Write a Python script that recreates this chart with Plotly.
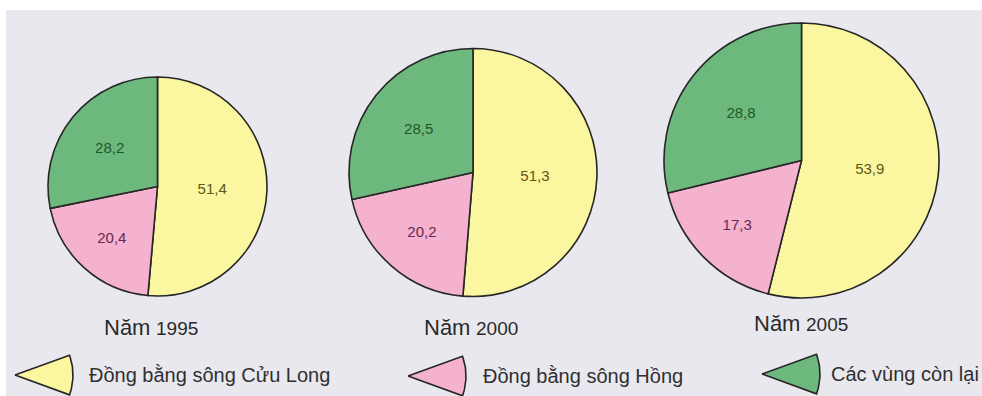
import numpy as np
import plotly.graph_objects as go

# Cơ cấu theo vùng (%), ba năm
regions = ["Đồng bằng sông Cửu Long", "Đồng bằng sông Hồng", "Các vùng còn lại"]
years = ["1995", "2000", "2005"]
share_1995 = [51.4, 20.4, 28.2]
share_2000 = [51.3, 20.2, 28.5]
share_2005 = [53.9, 17.3, 28.8]
shares = [share_1995, share_2000, share_2005]

slice_colors = ["#fbf6a0", "#f5b2cf", "#6db87c"]
label_colors = ["#5e5814", "#652a4e", "#1c5a27"]
bg_color = "#e9e8ef"
W, H = 982, 396

# pie placement in pixels: centre x, centre y, radius (size grows with year)
pie_geom = [(157.5, 186.5, 109.5), (473.0, 172.5, 124.0), (801.5, 160.5, 137.5)]
caption_pos = [(151, 327), (471, 327), (801, 323)]

# legend icons: wedge apex x, y and text start
legend_pos = [(15, 375, 87), (408, 376, 481), (762, 374, 829)]
wedge_r, wedge_half = 58, 20

fig = go.Figure()

for vals, (cx, cy, r) in zip(shares, pie_geom):
    fig.add_trace(go.Pie(
        values=vals,
        labels=regions,
        sort=False,
        direction="clockwise",
        rotation=0,
        domain=dict(x=[(cx - r) / W, (cx + r) / W],
                    y=[1 - (cy + r) / H, 1 - (cy - r) / H]),
        marker=dict(colors=slice_colors, line=dict(color="#262626", width=1.6)),
        texttemplate="%{value:.1f}",
        textposition="inside",
        insidetextorientation="horizontal",
        textfont=dict(family="Liberation Sans, Arial, sans-serif", size=15,
                      color=label_colors),
        hoverinfo="label+value",
        showlegend=False,
    ))

# wedge-shaped legend keys on a hidden pixel-space axis
ang = np.radians(np.linspace(-wedge_half, wedge_half, 30))
for (ax, ay, tx), name, col in zip(legend_pos, regions, slice_colors):
    xs = np.concatenate([[ax], ax + wedge_r * np.cos(ang), [ax]])
    ys = np.concatenate([[ay], ay + wedge_r * np.sin(ang), [ay]])
    fig.add_trace(go.Scatter(
        x=xs, y=ys, mode="lines", fill="toself", fillcolor=col,
        line=dict(color="#262626", width=1.6),
        hoverinfo="skip", showlegend=False,
    ))
    fig.add_annotation(
        x=tx, y=ay, xref="x", yref="y", text=name, showarrow=False,
        xanchor="left", yanchor="middle",
        font=dict(family="Liberation Sans, Arial, sans-serif", size=20, color="#303030"),
    )

for yr, (x, y) in zip(years, caption_pos):
    fig.add_annotation(
        x=x, y=y, xref="x", yref="y", showarrow=False,
        xanchor="center", yanchor="middle",
        text=("<span style='font-size:22px'>Năm</span> "
              f"<span style='font-size:19px'>{yr}</span>"),
        font=dict(family="Liberation Sans, Arial, sans-serif",
                  size=20, color="#2a2a2a"),
    )

# light panel behind the chart, with a thin white band on top and left
fig.add_shape(type="rect", xref="x", yref="y", x0=6, x1=W, y0=10, y1=H,
              fillcolor=bg_color, line=dict(width=0), layer="below")

fig.update_layout(
    width=W, height=H,
    margin=dict(l=0, r=0, t=0, b=0),
    paper_bgcolor="white",
    plot_bgcolor="rgba(0,0,0,0)",
    separators=",.",
    xaxis=dict(range=[0, W], visible=False, domain=[0, 1], fixedrange=True),
    yaxis=dict(range=[H, 0], visible=False, domain=[0, 1], fixedrange=True),
    showlegend=False,
)

fig.write_html("out.html")
